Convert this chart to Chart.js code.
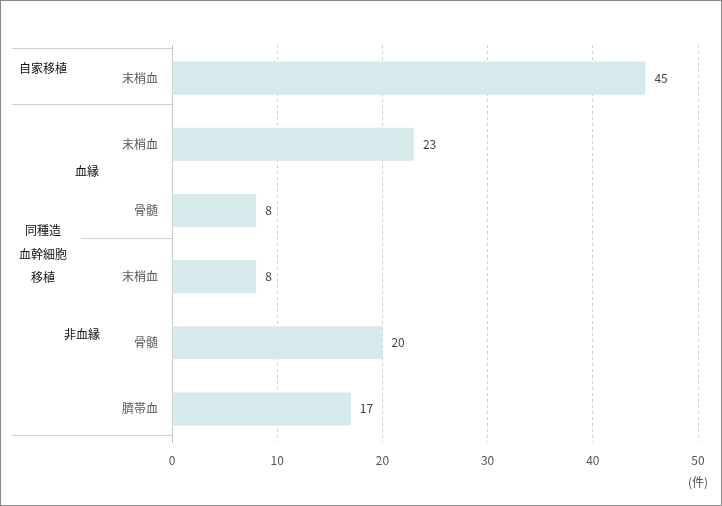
<!DOCTYPE html>
<html><head><meta charset="utf-8">
<script src="https://cdn.jsdelivr.net/npm/chart.js@4/dist/chart.umd.min.js"></script>
<style>html,body{margin:0;padding:0;background:#fff}#wrap{width:722px;height:506px;position:relative}</style>
</head><body><div id="wrap"><canvas id="c" width="722" height="506"></canvas></div>
<script>
const categories = ['末梢血','末梢血','骨髄','末梢血','骨髄','臍帯血'];
const values = [45, 23, 8, 8, 20, 17];
const xTicks = [0, 10, 20, 30, 40, 50];
const unitLabel = '(件)';
const groupAuto = '自家移植';
const groupAllo = ['同種造','血幹細胞','移植'];
const groupRelated = '血縁';
const groupUnrelated = '非血縁';

const FONT = "'Noto Sans CJK JP','Noto Sans',sans-serif";

const deco = {
  id: 'deco',
  afterDraw(chart) {
    const ctx = chart.ctx, y = chart.scales.y, x = chart.scales.x, ca = chart.chartArea;
    const p = i => y.getPixelForValue(i);
    ctx.save();
    // outer border
    ctx.strokeStyle = '#8a8a8a'; ctx.lineWidth = 1;
    ctx.strokeRect(0.5, 0.5, 721, 505);
    // separators
    ctx.strokeStyle = '#d0d0d0';
    const seps = [[12, p(0) - 30], [12, (p(0) + p(1)) / 2 - 7], [81, (p(2) + p(3)) / 2 - 6], [12, p(5) + 26]];
    seps.forEach(([x0, yy]) => { ctx.beginPath(); ctx.moveTo(x0, Math.round(yy) + 0.5); ctx.lineTo(ca.left, Math.round(yy) + 0.5); ctx.stroke(); });
    // category labels
    ctx.font = '12px ' + FONT; ctx.fillStyle = '#595959'; ctx.textAlign = 'right'; ctx.textBaseline = 'middle';
    categories.forEach((c, i) => ctx.fillText(c, 158, p(i)));
    // group labels
    ctx.fillStyle = '#111'; ctx.textAlign = 'center';
    ctx.fillText(groupAuto, 43, p(0) - 10);
    ctx.fillText(groupRelated, 87, (p(1) + p(2)) / 2 - 6);
    const offs = [-46, -22, 1];
    groupAllo.forEach((t, k) => ctx.fillText(t, 43, p(3) + offs[k]));
    ctx.fillText(groupUnrelated, 82, p(4) - 8);
    // value labels
    ctx.fillStyle = '#444'; ctx.textAlign = 'left';
    const meta = chart.getDatasetMeta(0);
    meta.data.forEach((b, i) => ctx.fillText(String(values[i]), b.x + 9, b.y));
    // unit
    ctx.fillStyle = '#555'; ctx.textAlign = 'center';
    ctx.fillText(unitLabel, x.getPixelForValue(xTicks[xTicks.length - 1]), 482);
    ctx.restore();
  }
};

new Chart(document.getElementById('c'), {
  type: 'bar',
  data: {
    labels: categories.map((c, i) => i),
    datasets: [{ data: values, backgroundColor: '#d6e9eb', borderWidth: 0, barPercentage: 0.5, categoryPercentage: 1 }]
  },
  options: {
    indexAxis: 'y', responsive: false, animation: false,
    layout: { padding: { left: 172, right: 24, top: 45, bottom: 0 } },
    plugins: { legend: { display: false }, tooltip: { enabled: false } },
    scales: {
      x: {
        min: 0, max: 50,
        afterBuildTicks: s => { s.ticks = xTicks.map(v => ({ value: v })); },
        afterFit: s => { s.height = 64; },
        grid: { color: ctx => ctx.index === 0 ? 'rgba(0,0,0,0)' : '#cfcfcf', drawTicks: false, lineWidth: 1 },
        border: { display: false, dash: [3, 3] },
        ticks: { color: '#555', font: { size: 12, family: FONT }, padding: 11, maxRotation: 0 }
      },
      y: {
        afterFit: s => { s.width = 0; },
        ticks: { display: false },
        grid: { display: false },
        border: { display: true, color: '#c8c8c8', width: 1 }
      }
    }
  },
  plugins: [deco]
});
</script></body></html>
